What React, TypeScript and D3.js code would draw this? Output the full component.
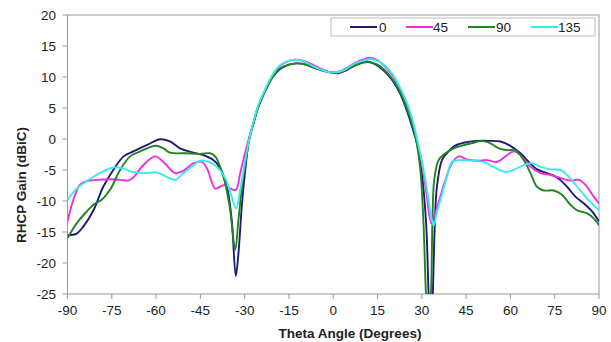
import React from "react";
import * as d3 from "d3";

// ---- Data ----
const seriesNames = ["0", "45", "90", "135"];
const seriesColors = ["#1f1a78", "#ee2ee0", "#218421", "#38eaf0"];

const xTicks = [-90, -75, -60, -45, -30, -15, 0, 15, 30, 45, 60, 75, 90];
const yTicks = [20, 15, 10, 5, 0, -5, -10, -15, -20, -25];

const theta0 = [-90, -87, -84.6, -81.2, -77.9, -74.5, -71, -67.7, -63.2, -58.6, -55.3, -51.9, -47.3, -44, -40.6, -38.3, -36, -34.4, -33, -32.1, -30.9, -29.8, -28.5, -27, -25.5, -23, -20.5, -18, -15, -12.5, -10, -7, -4, -1.5, 1.5, 4, 7, 9.5, 11.5, 14, 17, 20, 22.5, 25, 27, 28.5, 30, 31.5, 32.3, 33, 33.7, 34.3, 35.1, 36.8, 38.5, 40.8, 44.2, 48.7, 53.2, 56.6, 60, 63.4, 66.2, 69, 72.4, 75.8, 79.2, 82, 84.9, 87.7, 90];
const gain0 = [-15.5, -15.3, -14.1, -11.5, -7.7, -5, -2.8, -2.0, -1.0, -0.05, -0.4, -1.5, -2.2, -2.6, -3.4, -4.7, -7.7, -13, -22.1, -18.4, -10.4, -5, 0, 2.5, 5, 7.8, 10, 11.3, 12, 12.2, 12.1, 11.6, 11.1, 10.8, 10.6, 11, 11.8, 12.3, 12.5, 12.1, 11.1, 9.5, 7.5, 4.5, 1.5, -1, -5.5, -14, -25, -31, -25, -15, -7.7, -3.4, -2.3, -1.2, -0.6, -0.3, -0.3, -0.4, -1.1, -2.3, -3.7, -4.9, -5.5, -6.2, -7.7, -9.3, -10.4, -11.7, -13.3];

const theta45 = [-90, -88, -85.8, -83.5, -80, -75.6, -72, -69.5, -67.7, -64.3, -60.3, -57.5, -53.6, -50.7, -47.3, -44.5, -42.8, -40, -38.3, -36.6, -34.9, -33, -31.5, -30, -28.5, -27, -25.5, -23, -20.5, -18, -15, -13, -10, -7, -4, -1.5, 1.5, 4, 7, 10, 12.5, 15, 17.5, 20, 22.5, 25, 27, 28.5, 30, 31.5, 33.2, 34.5, 35.7, 38, 40.2, 42.5, 45.3, 48.7, 52.1, 55.5, 58.3, 61.2, 63.4, 66.8, 70.2, 73.6, 77, 80.3, 83.2, 85.4, 88.2, 90];
const gain45 = [-13.3, -9.8, -7.4, -6.8, -6.6, -6.5, -6.6, -6.7, -6.2, -4.2, -2.8, -3.7, -5.5, -5.1, -3.9, -3.7, -4.7, -8, -7.7, -7.4, -8, -8.2, -5.5, -2.5, 0.2, 2.7, 5.2, 8, 10.3, 11.8, 12.6, 12.8, 12.6, 12, 11.3, 10.8, 10.8, 11.3, 12.2, 12.8, 13.1, 12.7, 11.7, 10.3, 8.2, 5.5, 2.5, -0.5, -4, -8.5, -13.6, -12, -10.2, -6.6, -3.9, -2.8, -3.3, -3.5, -3.4, -3.7, -2.8, -2, -2.6, -4.5, -5.5, -5.8, -6.3, -6.7, -6.6, -7.4, -9.3, -10.4];

const theta90 = [-90, -86.9, -83.5, -81.2, -78.4, -75.6, -72.2, -68.8, -65.4, -62, -59.8, -57.5, -55.3, -49.6, -45.1, -41.7, -40, -38.3, -36.6, -34.9, -33.2, -32.1, -30.9, -29.8, -28.3, -27, -25.5, -23, -20.5, -18, -15, -12.5, -10, -7, -4, -1.5, 1.5, 4, 7, 10, 12, 14.5, 17, 19.5, 22, 24.5, 26.5, 28, 29.5, 30.6, 31.4, 32.25, 33.1, 33.6, 34.2, 35.7, 38, 40.8, 44.2, 47.6, 50.4, 53.2, 56.1, 58.9, 61.7, 64.5, 66.8, 69, 71.3, 74.7, 77.5, 80.3, 82.6, 86, 88.2, 90];
const gain90 = [-16, -13.6, -11.7, -10.6, -9.8, -8.2, -5, -2.8, -2, -1.3, -1.1, -1.5, -2.2, -2.3, -2.4, -2.3, -2.8, -4.5, -7.2, -11.5, -17.9, -13, -7.7, -4, 0.2, 2.6, 5, 7.8, 10, 11.4, 12, 12.2, 12.1, 11.6, 11.1, 10.8, 10.7, 11.1, 11.8, 12.3, 12.4, 12.1, 11.3, 10, 8.2, 5.5, 2.8, 0, -5, -14, -25, -31, -25, -13, -6.6, -3.4, -2.3, -1.5, -1, -0.6, -0.3, -0.7, -1.5, -1.8, -1.8, -3.4, -5.5, -7.7, -8.3, -8.3, -9, -10.6, -11.5, -12, -12.8, -13.9];

const theta135 = [-90, -86.9, -83.5, -79, -74.5, -71.6, -68.2, -64.3, -59.8, -56.4, -53.6, -50.7, -47.3, -45.1, -42.2, -39.4, -36.6, -34.9, -32.9, -31.5, -29.8, -28.3, -27, -25.5, -23, -20.5, -18, -15, -13, -10, -7, -4, -1.5, 1.5, 4, 7, 10, 12.5, 15, 17.5, 20, 22.5, 25, 27, 28.5, 30, 31.5, 33, 34, 35, 36.3, 38.5, 40.2, 43, 47.5, 50.9, 54.3, 58.3, 61.1, 64.5, 67.3, 70.2, 73.6, 77, 79.8, 82.6, 86, 90];
const gain135 = [-9.8, -8, -6.8, -5.5, -4.6, -4.7, -5.3, -5.5, -5.4, -6.1, -6.6, -5.5, -4.2, -3.5, -3.7, -4.5, -6.3, -8.5, -11.2, -8.2, -3.4, 0.3, 2.8, 5.3, 8.1, 10.4, 11.9, 12.6, 12.8, 12.5, 11.8, 11.2, 10.8, 10.8, 11.2, 12.1, 12.6, 12.9, 12.6, 11.8, 10.5, 8.4, 5.8, 2.8, -0.3, -3.5, -7.5, -12, -14, -12, -9.8, -6.1, -3.7, -3.4, -3.5, -3.7, -4.5, -5.3, -5, -4.2, -3.9, -4.5, -4.9, -5, -6.1, -7.7, -9.6, -11.5];

const thetas = [theta0, theta45, theta90, theta135];
const gains = [gain0, gain45, gain90, gain135];

const W = 611;
const H = 342;
const FONT = "'Liberation Sans', Arial, sans-serif";

export default function App() {
  const x = d3.scaleLinear().domain([-90, 90]).range([67.5, 599]);
  const y = d3.scaleLinear().domain([-25, 20]).range([294, 15]);
  const line = d3
    .line<[number, number]>()
    .x((d) => x(d[0]))
    .y((d) => y(d[1]))
    .curve(d3.curveCatmullRom.alpha(0.5));

  const [x0, x1] = x.range();
  const [yb, yt] = y.range();

  const legendItems = [
    { lx: 350, tx: 379 },
    { lx: 406, tx: 433 },
    { lx: 468, tx: 496 },
    { lx: 531, tx: 558 },
  ];

  return (
    <svg
      width={W}
      height={H}
      style={{ position: "absolute", left: 0, top: 0, background: "#fff" }}
      fontFamily={FONT}
    >
      <defs>
        <clipPath id="plotclip">
          <rect x={x0} y={yt} width={x1 - x0} height={yb - yt} />
        </clipPath>
      </defs>
      <rect x={0} y={0} width={W} height={H} fill="#fff" />
      {/* plot frame */}
      <rect x={x0} y={yt} width={x1 - x0} height={yb - yt} fill="none" stroke="#999" strokeWidth={1} />
      {/* y ticks */}
      {yTicks.map((t) => (
        <g key={"y" + t}>
          <line x1={x0 - 5} x2={x0} y1={y(t)} y2={y(t)} stroke="#999" />
          <text x={56} y={y(t)} dy="0.35em" textAnchor="end" fontSize={13.5} fill="#222">
            {t}
          </text>
        </g>
      ))}
      {/* x ticks */}
      {xTicks.map((t) => (
        <g key={"x" + t}>
          <line x1={x(t)} x2={x(t)} y1={yb} y2={yb + 5} stroke="#999" />
          <text x={x(t)} y={315} textAnchor="middle" fontSize={13.5} fill="#222">
            {t}
          </text>
        </g>
      ))}
      {/* series */}
      <g clipPath="url(#plotclip)">
        {thetas.map((th, i) => (
          <path
            key={"s" + i}
            d={line(th.map((t, j) => [t, gains[i][j]] as [number, number])) || ""}
            fill="none"
            stroke={seriesColors[i]}
            strokeWidth={1.9}
          />
        ))}
      </g>
      {/* legend */}
      <rect x={331} y={18} width={264} height={18} fill="#fff" stroke="#bbb" />
      {seriesNames.map((n, i) => (
        <g key={"l" + i}>
          <line
            x1={legendItems[i].lx}
            x2={legendItems[i].lx + 27}
            y1={27}
            y2={27}
            stroke={seriesColors[i]}
            strokeWidth={2}
          />
          <text x={legendItems[i].tx} y={27} dy="0.35em" fontSize={13.5} fill="#222">
            {n}
          </text>
        </g>
      ))}
      {/* axis titles */}
      <text x={350} y={338} textAnchor="middle" fontSize={13.5} fontWeight="bold" fill="#222">
        Theta Angle (Degrees)
      </text>
      <text
        transform={`translate(26,185) rotate(-90)`}
        textAnchor="middle"
        fontSize={13.5}
        fontWeight="bold"
        fill="#222"
      >
        RHCP Gain (dBiC)
      </text>
    </svg>
  );
}
